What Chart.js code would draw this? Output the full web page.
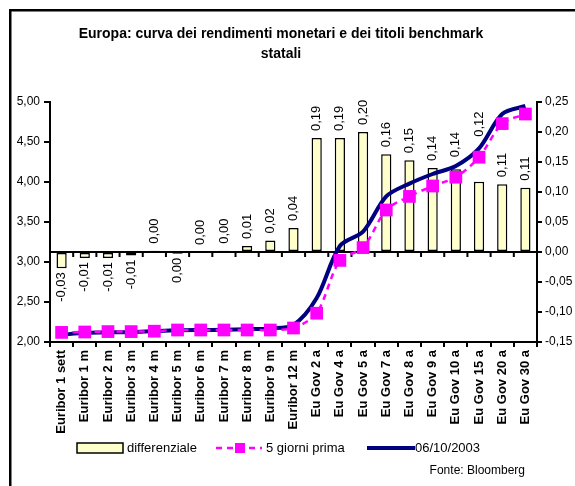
<!DOCTYPE html>
<html>
<head>
<meta charset="utf-8">
<script src="https://cdn.jsdelivr.net/npm/chart.js@4/dist/chart.umd.min.js"></script>
<style>
  html, body { margin: 0; padding: 0; background: #ffffff; }
  canvas { display: block; }
</style>
</head>
<body>
<canvas id="c" width="575" height="486"></canvas>
<script>
// Scadenze: tassi Euribor e benchmark governativi dell'area euro
const categories = [
  'Euribor 1 sett', 'Euribor 1 m', 'Euribor 2 m', 'Euribor 3 m', 'Euribor 4 m',
  'Euribor 5 m', 'Euribor 6 m', 'Euribor 7 m', 'Euribor 8 m', 'Euribor 9 m',
  'Euribor 12 m', 'Eu Gov 2 a', 'Eu Gov 4 a', 'Eu Gov 5 a', 'Eu Gov 7 a',
  'Eu Gov 8 a', 'Eu Gov 9 a', 'Eu Gov 10 a', 'Eu Gov 15 a', 'Eu Gov 20 a', 'Eu Gov 30 a'
];

// Differenziale (asse destro)
const differenziale = [
  -0.027, -0.010, -0.010, -0.006, 0.002, -0.003, 0.000, 0.002, 0.010, 0.019,
  0.040, 0.190, 0.190, 0.200, 0.163, 0.153, 0.140, 0.138, 0.117, 0.113, 0.107
];

// Rendimenti cinque giorni prima (asse sinistro)
const cinqueGiorniPrima = [
  2.12, 2.125, 2.13, 2.13, 2.135, 2.15, 2.15, 2.15, 2.15, 2.15,
  2.175, 2.36, 3.02, 3.18, 3.65, 3.82, 3.95, 4.06, 4.31, 4.73, 4.85
];

// Rendimenti al 06/10/2003 (asse sinistro)
const rendimenti06102003 = [
  2.09, 2.115, 2.12, 2.125, 2.137, 2.147, 2.15, 2.152, 2.16, 2.17,
  2.215, 2.55, 3.20, 3.38, 3.82, 3.98, 4.10, 4.20, 4.42, 4.85, 4.95
];

// Etichette degli assi
const yieldTicks = [2.00, 2.50, 3.00, 3.50, 4.00, 4.50, 5.00];
const spreadTicks = [-0.15, -0.10, -0.05, 0.00, 0.05, 0.10, 0.15, 0.20, 0.25];

const seriesNames = ['differenziale', '5 giorni prima', '06/10/2003'];
const titleLines = ['Europa: curva dei rendimenti monetari e dei titoli benchmark', 'statali'];
const sourceNote = 'Fonte: Bloomberg';

const FONT = "'Liberation Sans', Arial, Helvetica, sans-serif";
const NAVY = '#000080';
const PINK = '#FF00FF';
const CREAM = '#FFFFCC';

const fmt = v => {
  if (Math.round(v * 100) === 0) return '0,00';
  return v.toFixed(2).replace('.', ',');
};

Chart.defaults.font.family = FONT;
Chart.defaults.color = '#000';

// Cornice, titolo, linea dello zero, etichette delle barre, legenda e fonte
const decorations = {
  id: 'decorations',
  beforeDraw(chart) {
    const ctx = chart.ctx;
    ctx.save();
    ctx.fillStyle = '#ffffff';
    ctx.fillRect(0, 0, chart.width, chart.height);
    ctx.strokeStyle = '#000';
    ctx.lineWidth = 2.5;
    ctx.strokeRect(10.25, 10.25, chart.width + 20, chart.height + 20);

    ctx.fillStyle = '#000';
    ctx.font = 'bold 14px ' + FONT;
    ctx.textAlign = 'center';
    ctx.textBaseline = 'alphabetic';
    ctx.fillText(titleLines[0], 281, 38);
    ctx.fillText(titleLines[1], 281, 58);
    ctx.restore();
  },
  afterDatasetDraw(chart, args) {
    if (args.index !== 0) return;
    // asse orizzontale secondario sullo zero del differenziale
    const ctx = chart.ctx;
    const area = chart.chartArea;
    const y0 = chart.scales.y1.getPixelForValue(0);
    ctx.save();
    ctx.strokeStyle = '#000';
    ctx.lineWidth = 2;
    ctx.beginPath();
    ctx.moveTo(area.left, y0);
    ctx.lineTo(area.right, y0);
    const n = categories.length;
    for (let i = 0; i <= n; i++) {
      const x = area.left + (area.right - area.left) * i / n;
      ctx.moveTo(x, y0);
      ctx.lineTo(x, y0 + 5);
    }
    ctx.stroke();
    ctx.restore();
  },
  afterDatasetsDraw(chart, args, opts) {
    const ctx = chart.ctx;
    const meta = chart.getDatasetMeta(0);
    const lift = opts.labelLift || {};
    ctx.save();
    ctx.fillStyle = '#000';
    ctx.font = '13px ' + FONT;
    ctx.textBaseline = 'middle';
    meta.data.forEach((bar, i) => {
      const v = differenziale[i];
      const label = fmt(v);
      ctx.save();
      if (v >= 0) {
        ctx.translate(bar.x, Math.min(bar.y, bar.base) - 7 - (lift[i] || 0));
        ctx.rotate(-Math.PI / 2);
        ctx.textAlign = 'left';
      } else {
        ctx.translate(bar.x, Math.max(bar.y, bar.base) + 4);
        ctx.rotate(-Math.PI / 2);
        ctx.textAlign = 'right';
      }
      ctx.fillText(label, 0, 0);
      ctx.restore();
    });
    ctx.restore();
  },
  afterDraw(chart) {
    const ctx = chart.ctx;
    ctx.save();
    const ly = 448;
    // differenziale
    ctx.fillStyle = CREAM;
    ctx.strokeStyle = '#000';
    ctx.lineWidth = 1.5;
    ctx.fillRect(77, ly - 5, 46, 10);
    ctx.strokeRect(77, ly - 5, 46, 10);
    // 5 giorni prima
    ctx.strokeStyle = PINK;
    ctx.lineWidth = 2.5;
    ctx.setLineDash([6, 5]);
    ctx.beginPath();
    ctx.moveTo(216, ly);
    ctx.lineTo(262, ly);
    ctx.stroke();
    ctx.setLineDash([]);
    ctx.fillStyle = PINK;
    ctx.fillRect(235, ly - 5, 10, 10);
    // 06/10/2003
    ctx.strokeStyle = NAVY;
    ctx.lineWidth = 4;
    ctx.beginPath();
    ctx.moveTo(367, ly);
    ctx.lineTo(415, ly);
    ctx.stroke();

    ctx.fillStyle = '#000';
    ctx.font = '13px ' + FONT;
    ctx.textAlign = 'left';
    ctx.textBaseline = 'middle';
    ctx.fillText(seriesNames[0], 127, ly);
    ctx.fillText(seriesNames[1], 266, ly);
    ctx.fillText(seriesNames[2], 415, ly);

    ctx.font = '12px ' + FONT;
    ctx.textAlign = 'right';
    ctx.fillText(sourceNote, 525, 471);
    ctx.restore();
  }
};

const axisGrid = { display: true, drawOnChartArea: false, drawTicks: true, color: '#000', lineWidth: 2 };

new Chart(document.getElementById('c'), {
  data: {
    labels: categories,
    datasets: [
      {
        type: 'bar',
        label: seriesNames[0],
        data: differenziale,
        yAxisID: 'y1',
        backgroundColor: CREAM,
        borderColor: '#000',
        borderWidth: 1.5,
        borderSkipped: false,
        barPercentage: 0.44,
        categoryPercentage: 1,
        order: 2
      },
      {
        type: 'line',
        label: seriesNames[2],
        data: rendimenti06102003,
        yAxisID: 'y',
        borderColor: NAVY,
        borderWidth: 4,
        pointRadius: 0,
        tension: 0.3,
        fill: false,
        order: 1
      },
      {
        type: 'line',
        label: seriesNames[1],
        data: cinqueGiorniPrima,
        yAxisID: 'y',
        borderColor: PINK,
        borderWidth: 2.5,
        borderDash: [6, 5],
        pointStyle: 'rect',
        pointRadius: 9,
        pointBorderWidth: 0,
        pointBackgroundColor: PINK,
        tension: 0.3,
        fill: false,
        order: 0
      }
    ]
  },
  options: {
    responsive: false,
    animation: false,
    events: [],
    layout: { padding: { top: 102, left: 0, right: 0, bottom: 0 } },
    plugins: {
      legend: { display: false },
      title: { display: false },
      tooltip: { enabled: false },
      // etichette spostate più in alto per non coprire le linee
      decorations: { labelLift: { 17: 5, 18: 38 } }
    },
    scales: {
      x: {
        type: 'category',
        grid: Object.assign({}, axisGrid, { tickLength: 5, offset: true }),
        border: { display: true, color: '#000', width: 2 },
        ticks: {
          autoSkip: false,
          maxRotation: 90,
          minRotation: 90,
          padding: 3,
          color: '#000',
          font: { size: 13, weight: 'bold' }
        },
        afterFit(scale) { scale.height = 144; }
      },
      y: {
        position: 'left',
        min: yieldTicks[0],
        max: yieldTicks[yieldTicks.length - 1],
        afterBuildTicks(scale) { scale.ticks = yieldTicks.map(v => ({ value: v })); },
        grid: Object.assign({}, axisGrid, { tickLength: 6 }),
        border: { display: true, color: '#000', width: 2 },
        ticks: {
          padding: 4,
          color: '#000',
          font: { size: 12 },
          callback: v => fmt(v)
        },
        afterFit(scale) { scale.width = 50; }
      },
      y1: {
        position: 'right',
        min: spreadTicks[0],
        max: spreadTicks[spreadTicks.length - 1],
        afterBuildTicks(scale) { scale.ticks = spreadTicks.map(v => ({ value: v })); },
        grid: Object.assign({}, axisGrid, { tickLength: 5 }),
        border: { display: true, color: '#000', width: 2 },
        ticks: {
          padding: 3,
          color: '#000',
          font: { size: 12 },
          callback: v => fmt(v)
        },
        afterFit(scale) { scale.width = 38; }
      }
    }
  },
  plugins: [decorations]
});
</script>
</body>
</html>
